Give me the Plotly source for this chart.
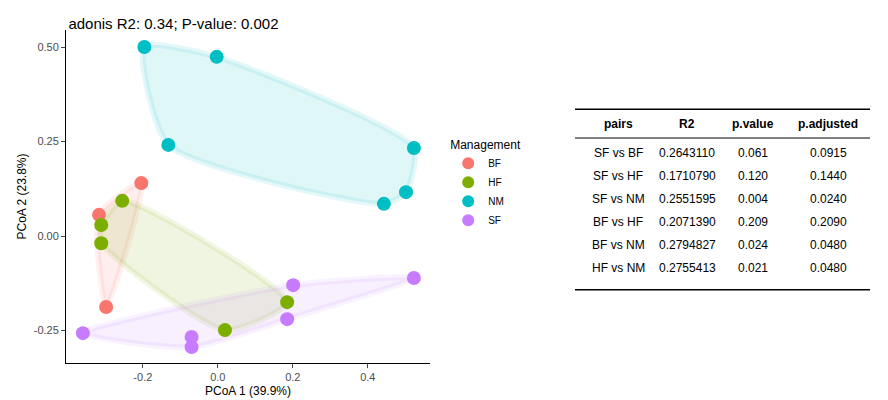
import plotly.graph_objects as go

groups = ["BF", "HF", "NM", "SF"]
colors = {"BF": "#F8766D", "HF": "#7CAE00", "NM": "#00BFC4", "SF": "#C77CFF"}
pc1 = {
    "BF": [-0.204, -0.317, -0.298],
    "HF": [-0.255, -0.311, -0.311, 0.185, 0.019],
    "NM": [-0.196, -0.003, -0.132, 0.523, 0.502, 0.443],
    "SF": [-0.360, -0.070, -0.070, 0.185, 0.201, 0.523],
}
pc2 = {
    "BF": [0.140, 0.056, -0.188],
    "HF": [0.093, 0.029, -0.019, -0.175, -0.249],
    "NM": [0.500, 0.474, 0.241, 0.233, 0.116, 0.085],
    "SF": [-0.257, -0.267, -0.294, -0.220, -0.130, -0.111],
}

pairs = ["SF vs BF", "SF vs HF", "SF vs NM", "BF vs HF", "BF vs NM", "HF vs NM"]
r2 = ["0.2643110", "0.1710790", "0.2551595", "0.2071390", "0.2794827", "0.2755413"]
pvalue = ["0.061", "0.120", "0.004", "0.209", "0.024", "0.021"]
padj = ["0.0915", "0.1440", "0.0240", "0.2090", "0.0480", "0.0480"]
headers = ["pairs", "R2", "p.value", "p.adjusted"]


def hull(xs, ys):
    pts = sorted(set(zip(xs, ys)))
    def cross(o, a, b):
        return (a[0]-o[0])*(b[1]-o[1]) - (a[1]-o[1])*(b[0]-o[0])
    lower, upper = [], []
    for p in pts:
        while len(lower) >= 2 and cross(lower[-2], lower[-1], p) <= 0:
            lower.pop()
        lower.append(p)
    for p in reversed(pts):
        while len(upper) >= 2 and cross(upper[-2], upper[-1], p) <= 0:
            upper.pop()
        upper.append(p)
    h = lower[:-1] + upper[:-1]
    h.append(h[0])
    return [p[0] for p in h], [p[1] for p in h]


def rgba(hexc, a):
    return "rgba(%d,%d,%d,%s)" % (int(hexc[1:3], 16), int(hexc[3:5], 16), int(hexc[5:7], 16), a)


fig = go.Figure()
for g in groups:
    hx, hy = hull(pc1[g], pc2[g])
    fig.add_trace(go.Scatter(x=hx, y=hy, mode="lines", fill="toself",
                             line=dict(color=rgba(colors[g], 0.1), width=6, shape="spline", smoothing=0.6),
                             fillcolor=rgba(colors[g], 0.12), showlegend=False, hoverinfo="skip"))
for g in groups:
    fig.add_trace(go.Scatter(x=pc1[g], y=pc2[g], mode="markers", name=g,
                             marker=dict(color=colors[g], size=14)))

fig.update_layout(
    width=888, height=400, plot_bgcolor="white", paper_bgcolor="white",
    margin=dict(l=58, r=466, t=22, b=42),
    font=dict(family="Liberation Sans, Arial", size=11, color="#4d4d4d"),
    title=dict(text="adonis R2: 0.34; P-value: 0.002", x=0.068, y=0.975,
               font=dict(size=15, color="black")),
    legend=dict(title=dict(text="Management", font=dict(size=12, color="black")),
                x=1.05, y=0.69, xanchor="left", yanchor="top",
                font=dict(size=10, color="black"), itemsizing="constant"),
)
fig.update_xaxes(range=[-0.405, 0.566], tickvals=[-0.2, 0, 0.2, 0.4], ticktext=["-0.2", "0.0", "0.2", "0.4"],
                 showgrid=False, zeroline=False, showline=True, linecolor="black", ticks="outside",
                 ticklen=4, title=dict(text="PCoA 1 (39.9%)", font=dict(size=12, color="black"), standoff=4))
fig.update_yaxes(range=[-0.336, 0.545], tickvals=[-0.25, 0, 0.25, 0.5], ticktext=["-0.25", "0.00", "0.25", "0.50"],
                 showgrid=False, zeroline=False, showline=True, linecolor="black", ticks="outside",
                 ticklen=4, title=dict(text="PCoA 2 (23.8%)", font=dict(size=12, color="black"), standoff=4))


def px(x):
    return (x - 58) / 364


def py(y):
    return (358 - y) / 336


colx = [610, 679, 745, 820]
for cx, h in zip(colx, headers):
    fig.add_annotation(x=px(cx), y=py(117), xref="paper", yref="paper", text="<b>%s</b>" % h,
                       xanchor="center", yanchor="middle",
                       showarrow=False, font=dict(size=12, color="black"))
for i in range(len(pairs)):
    yy = py(146 + i * 23.2)
    for cx, v in zip(colx, [pairs[i], r2[i], pvalue[i], padj[i]]):
        fig.add_annotation(x=px(cx), y=yy, xref="paper", yref="paper", text=v,
                           xanchor="center", yanchor="middle",
                           showarrow=False, font=dict(size=12, color="black"))
for ly, w in [(102, 1.5), (131, 1), (284, 1.5)]:
    fig.add_shape(type="line", xref="paper", yref="paper", x0=px(567), x1=px(862),
                  y0=py(ly), y1=py(ly), line=dict(color="black", width=w))

fig.write_html("out.html")
